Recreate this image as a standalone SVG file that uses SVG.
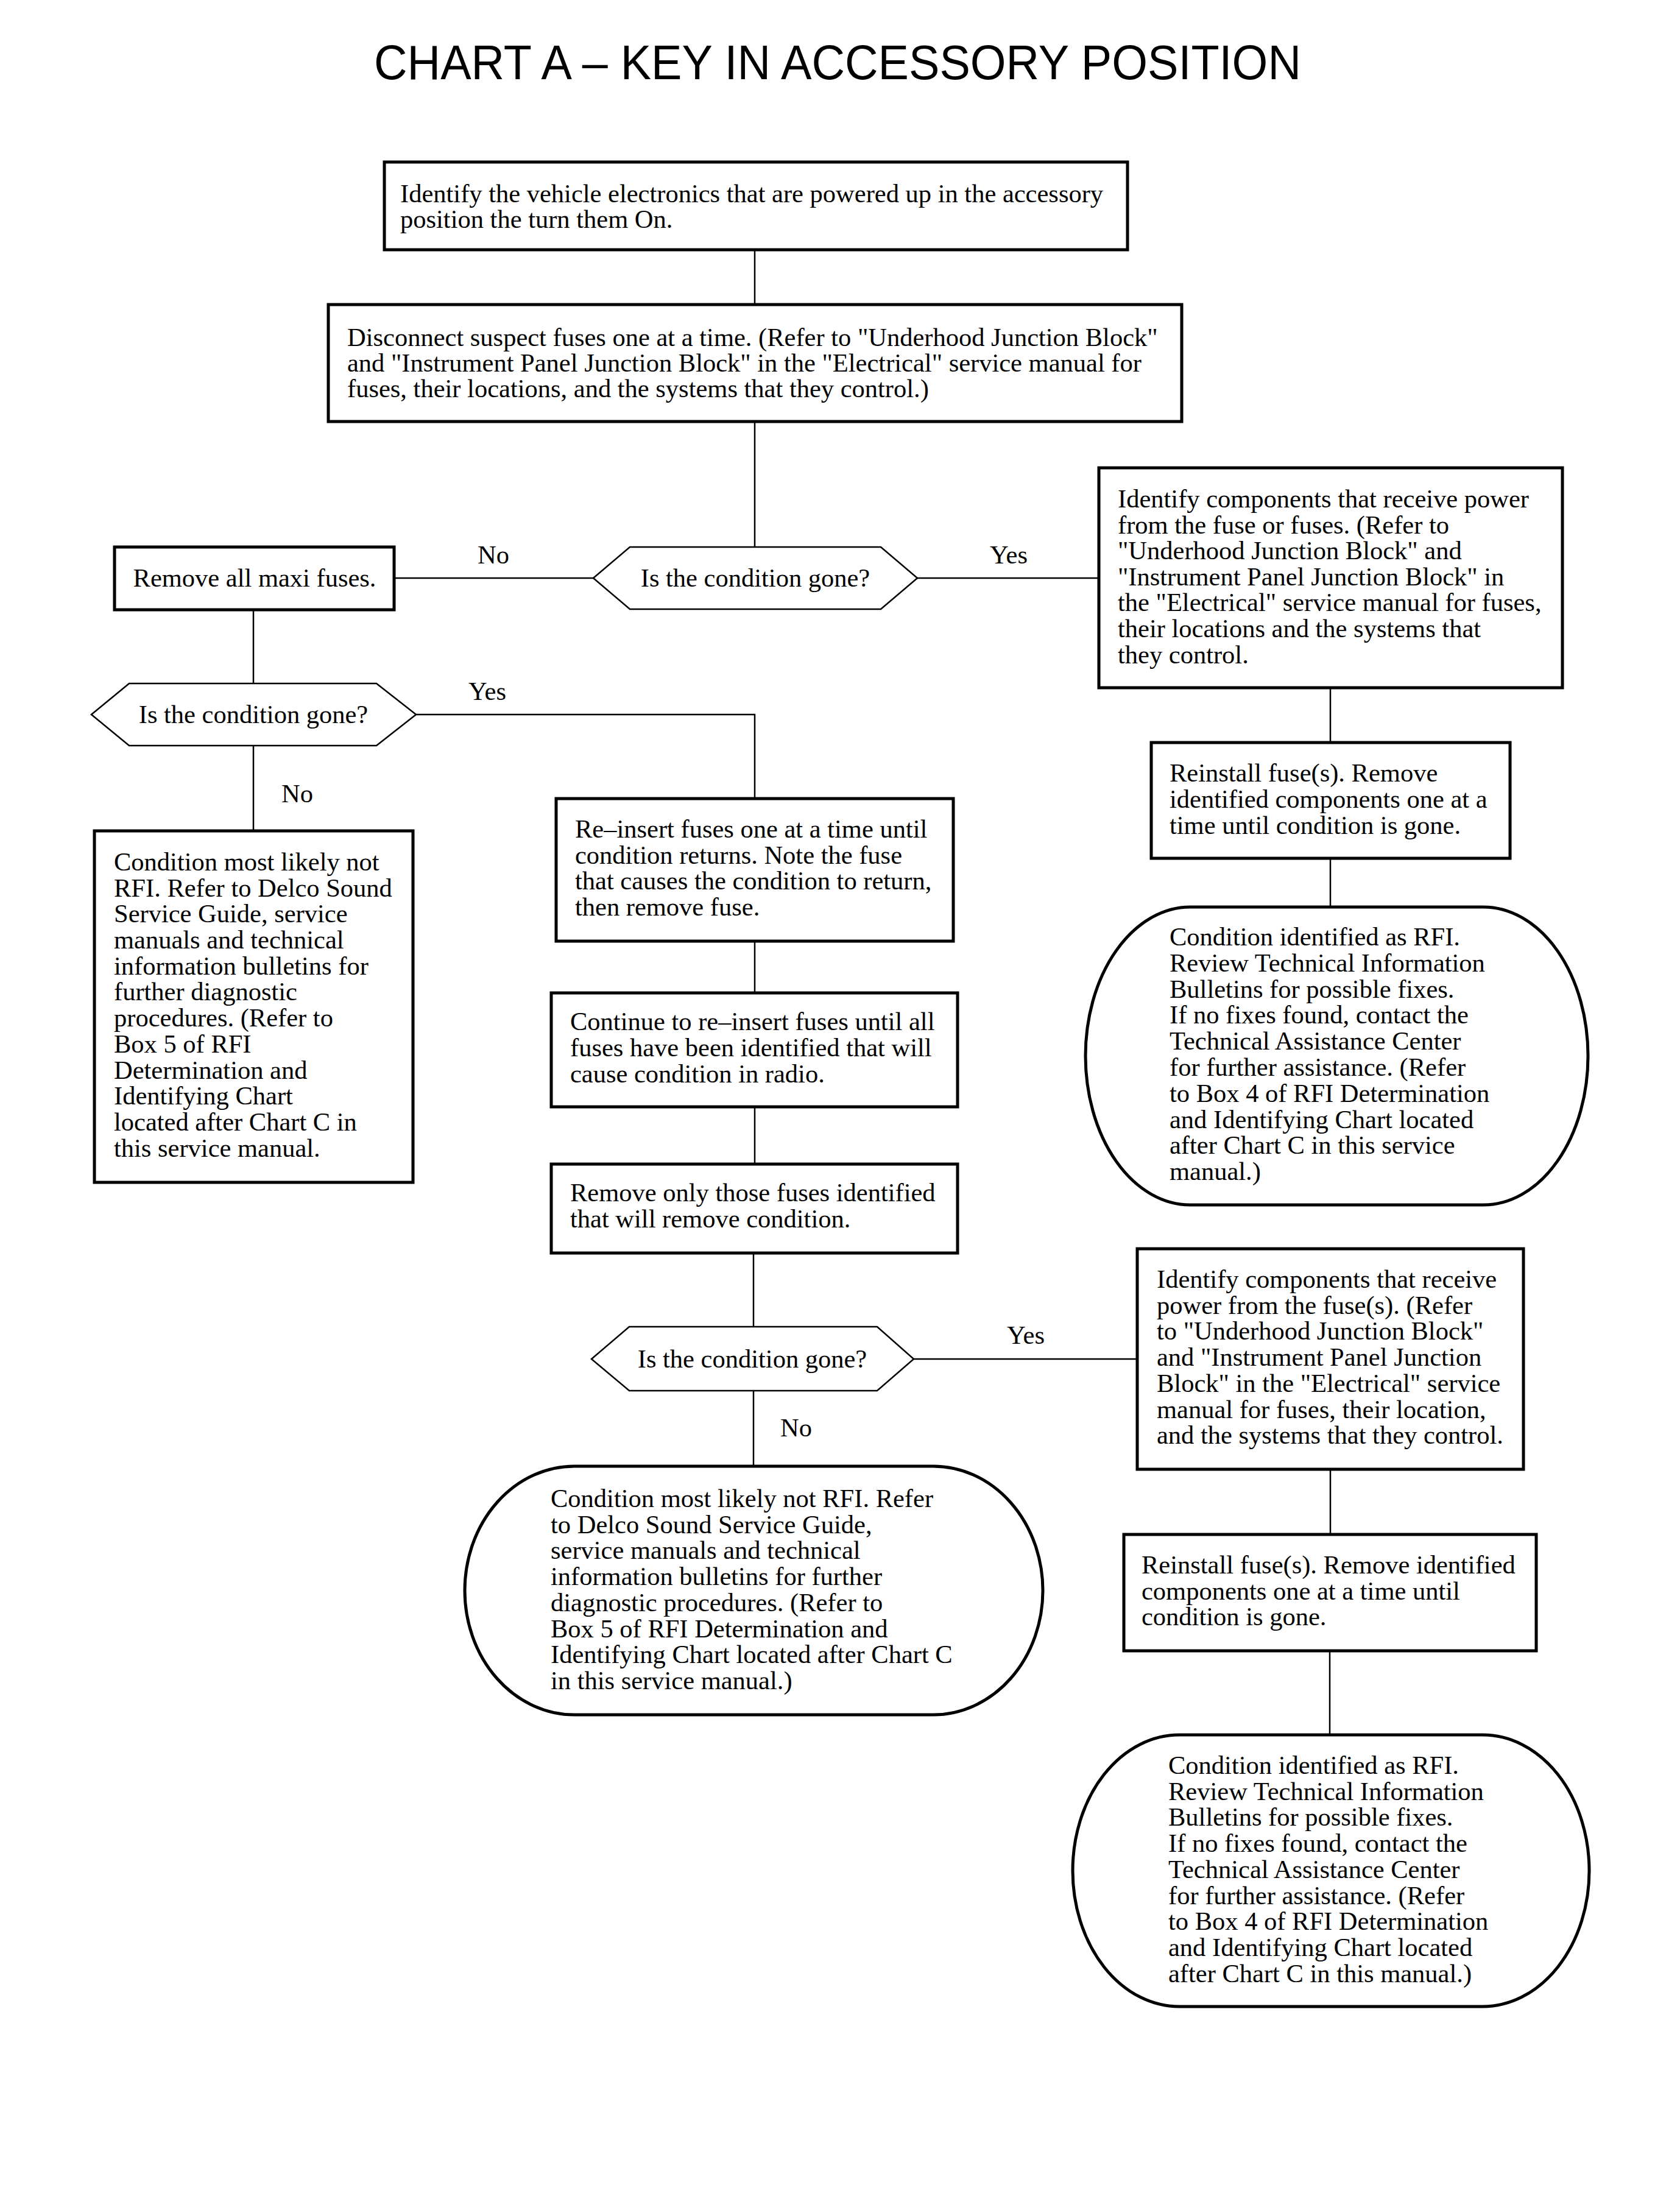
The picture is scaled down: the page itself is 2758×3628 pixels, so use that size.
<svg xmlns="http://www.w3.org/2000/svg" width="2758" height="3628" viewBox="0 0 2758 3628">
<style>
.box{fill:#fff;stroke:#000;stroke-width:5}
.dec{fill:#fff;stroke:#000;stroke-width:2.5}
.term{fill:#fff;stroke:#000;stroke-width:5}
.conn{fill:none;stroke:#000;stroke-width:2.5}
.t{font-family:"Liberation Serif","Times New Roman",serif;font-size:42.5px;fill:#000}
.c{text-anchor:middle}
.title{font-family:"Liberation Sans",Arial,sans-serif;font-size:80px;fill:#000}
</style>
<rect width="2758" height="3628" fill="#fff"/>
<text class="title" x="614" y="130" textLength="1522" lengthAdjust="spacingAndGlyphs">CHART A – KEY IN ACCESSORY POSITION</text>
<g id="connectors">
<path class="conn" d="M1239,410 V500"/>
<path class="conn" d="M1239,692 V898"/>
<path class="conn" d="M974,949 H647"/>
<path class="conn" d="M1506,949 H1804"/>
<path class="conn" d="M416,1001 V1122"/>
<path class="conn" d="M683,1173 H1239 V1311"/>
<path class="conn" d="M416,1224 V1364"/>
<path class="conn" d="M1239,1545 V1630"/>
<path class="conn" d="M1239,1817 V1911"/>
<path class="conn" d="M1237,2057 V2178"/>
<path class="conn" d="M1500,2231 H1867"/>
<path class="conn" d="M1237,2283 V2407"/>
<path class="conn" d="M2184,1129 V1219"/>
<path class="conn" d="M2184,1409 V1489"/>
<path class="conn" d="M2184,2412 V2519"/>
<path class="conn" d="M2183,2710 V2846"/>
<text class="t c" x="810" y="925">No</text>
<text class="t c" x="1656" y="925">Yes</text>
<text class="t c" x="800" y="1149">Yes</text>
<text class="t c" x="488" y="1317">No</text>
<text class="t c" x="1684" y="2206">Yes</text>
<text class="t c" x="1307" y="2358">No</text>
</g>
<g id="n1">
<rect class="box" x="631" y="266" width="1220" height="144"/>
<text class="t" x="657" y="332">Identify the vehicle electronics that are powered up in the accessory</text>
<text class="t" x="657" y="374">position the turn them On.</text>
</g>
<g id="n2">
<rect class="box" x="539" y="500" width="1401" height="192"/>
<text class="t" x="570" y="568">Disconnect suspect fuses one at a time. (Refer to "Underhood Junction Block"</text>
<text class="t" x="570" y="610">and "Instrument Panel Junction Block" in the "Electrical" service manual for</text>
<text class="t" x="570" y="652">fuses, their locations, and the systems that they control.)</text>
</g>
<g id="d1">
<polygon class="dec" points="974,949 1034,898 1446,898 1506,949 1446,1000 1034,1000"/>
<text class="t c" x="1240" y="963">Is the condition gone?</text>
</g>
<g id="n3">
<rect class="box" x="188" y="898" width="459" height="103"/>
<text class="t c" x="418" y="963">Remove all maxi fuses.</text>
</g>
<g id="n4">
<rect class="box" x="1804" y="768" width="761" height="361"/>
<text class="t" x="1835" y="833">Identify components that receive power</text>
<text class="t" x="1835" y="876">from the fuse or fuses. (Refer to</text>
<text class="t" x="1835" y="918">"Underhood Junction Block" and</text>
<text class="t" x="1835" y="961">"Instrument Panel Junction Block" in</text>
<text class="t" x="1835" y="1003">the "Electrical" service manual for fuses,</text>
<text class="t" x="1835" y="1046">their locations and the systems that</text>
<text class="t" x="1835" y="1089">they control.</text>
</g>
<g id="d2">
<polygon class="dec" points="150,1173 212,1122 618,1122 683,1173 618,1224 212,1224"/>
<text class="t c" x="416" y="1187">Is the condition gone?</text>
</g>
<g id="n5">
<rect class="box" x="155" y="1364" width="523" height="577"/>
<text class="t" x="187" y="1429">Condition most likely not</text>
<text class="t" x="187" y="1472">RFI. Refer to Delco Sound</text>
<text class="t" x="187" y="1514">Service Guide, service</text>
<text class="t" x="187" y="1557">manuals and technical</text>
<text class="t" x="187" y="1600">information bulletins for</text>
<text class="t" x="187" y="1642">further diagnostic</text>
<text class="t" x="187" y="1685">procedures. (Refer to</text>
<text class="t" x="187" y="1728">Box 5 of RFI</text>
<text class="t" x="187" y="1771">Determination and</text>
<text class="t" x="187" y="1813">Identifying Chart</text>
<text class="t" x="187" y="1856">located after Chart C in</text>
<text class="t" x="187" y="1899">this service manual.</text>
</g>
<g id="n6">
<rect class="box" x="913" y="1311" width="652" height="234"/>
<text class="t" x="944" y="1375">Re–insert fuses one at a time until</text>
<text class="t" x="944" y="1418">condition returns. Note the fuse</text>
<text class="t" x="944" y="1460">that causes the condition to return,</text>
<text class="t" x="944" y="1503">then remove fuse.</text>
</g>
<g id="n7">
<rect class="box" x="905" y="1630" width="667" height="187"/>
<text class="t" x="936" y="1691">Continue to re–insert fuses until all</text>
<text class="t" x="936" y="1734">fuses have been identified that will</text>
<text class="t" x="936" y="1777">cause condition in radio.</text>
</g>
<g id="n8">
<rect class="box" x="905" y="1911" width="667" height="146"/>
<text class="t" x="936" y="1972">Remove only those fuses identified</text>
<text class="t" x="936" y="2015">that will remove condition.</text>
</g>
<g id="d3">
<polygon class="dec" points="971,2231 1033,2178 1440,2178 1500,2231 1440,2283 1033,2283"/>
<text class="t c" x="1235" y="2245">Is the condition gone?</text>
</g>
<g id="n9">
<rect class="term" x="763" y="2407" width="949" height="408" rx="180" ry="204"/>
<text class="t" x="904" y="2474">Condition most likely not RFI. Refer</text>
<text class="t" x="904" y="2517">to Delco Sound Service Guide,</text>
<text class="t" x="904" y="2559">service manuals and technical</text>
<text class="t" x="904" y="2602">information bulletins for further</text>
<text class="t" x="904" y="2645">diagnostic procedures. (Refer to</text>
<text class="t" x="904" y="2688">Box 5 of RFI Determination and</text>
<text class="t" x="904" y="2730">Identifying Chart located after Chart C</text>
<text class="t" x="904" y="2773">in this service manual.)</text>
</g>
<g id="n10">
<rect class="box" x="1890" y="1219" width="589" height="190"/>
<text class="t" x="1920" y="1283">Reinstall fuse(s). Remove</text>
<text class="t" x="1920" y="1326">identified components one at a</text>
<text class="t" x="1920" y="1369">time until condition is gone.</text>
</g>
<g id="n11">
<rect class="term" x="1782" y="1489" width="825" height="489" rx="172" ry="244.5"/>
<text class="t" x="1920" y="1552">Condition identified as RFI.</text>
<text class="t" x="1920" y="1595">Review Technical Information</text>
<text class="t" x="1920" y="1638">Bulletins for possible fixes.</text>
<text class="t" x="1920" y="1680">If no fixes found, contact the</text>
<text class="t" x="1920" y="1723">Technical Assistance Center</text>
<text class="t" x="1920" y="1766">for further assistance. (Refer</text>
<text class="t" x="1920" y="1809">to Box 4 of RFI Determination</text>
<text class="t" x="1920" y="1852">and Identifying Chart located</text>
<text class="t" x="1920" y="1894">after Chart C in this service</text>
<text class="t" x="1920" y="1937">manual.)</text>
</g>
<g id="n12">
<rect class="box" x="1867" y="2050" width="634" height="362"/>
<text class="t" x="1899" y="2114">Identify components that receive</text>
<text class="t" x="1899" y="2157">power from the fuse(s). (Refer</text>
<text class="t" x="1899" y="2199">to "Underhood Junction Block"</text>
<text class="t" x="1899" y="2242">and "Instrument Panel Junction</text>
<text class="t" x="1899" y="2285">Block" in the "Electrical" service</text>
<text class="t" x="1899" y="2328">manual for fuses, their location,</text>
<text class="t" x="1899" y="2370">and the systems that they control.</text>
</g>
<g id="n13">
<rect class="box" x="1845" y="2519" width="677" height="191"/>
<text class="t" x="1874" y="2583">Reinstall fuse(s). Remove identified</text>
<text class="t" x="1874" y="2626">components one at a time until</text>
<text class="t" x="1874" y="2668">condition is gone.</text>
</g>
<g id="n14">
<rect class="term" x="1761" y="2848" width="848" height="446" rx="175" ry="223"/>
<text class="t" x="1918" y="2912">Condition identified as RFI.</text>
<text class="t" x="1918" y="2955">Review Technical Information</text>
<text class="t" x="1918" y="2997">Bulletins for possible fixes.</text>
<text class="t" x="1918" y="3040">If no fixes found, contact the</text>
<text class="t" x="1918" y="3083">Technical Assistance Center</text>
<text class="t" x="1918" y="3126">for further assistance. (Refer</text>
<text class="t" x="1918" y="3168">to Box 4 of RFI Determination</text>
<text class="t" x="1918" y="3211">and Identifying Chart located</text>
<text class="t" x="1918" y="3254">after Chart C in this manual.)</text>
</g>
</svg>
